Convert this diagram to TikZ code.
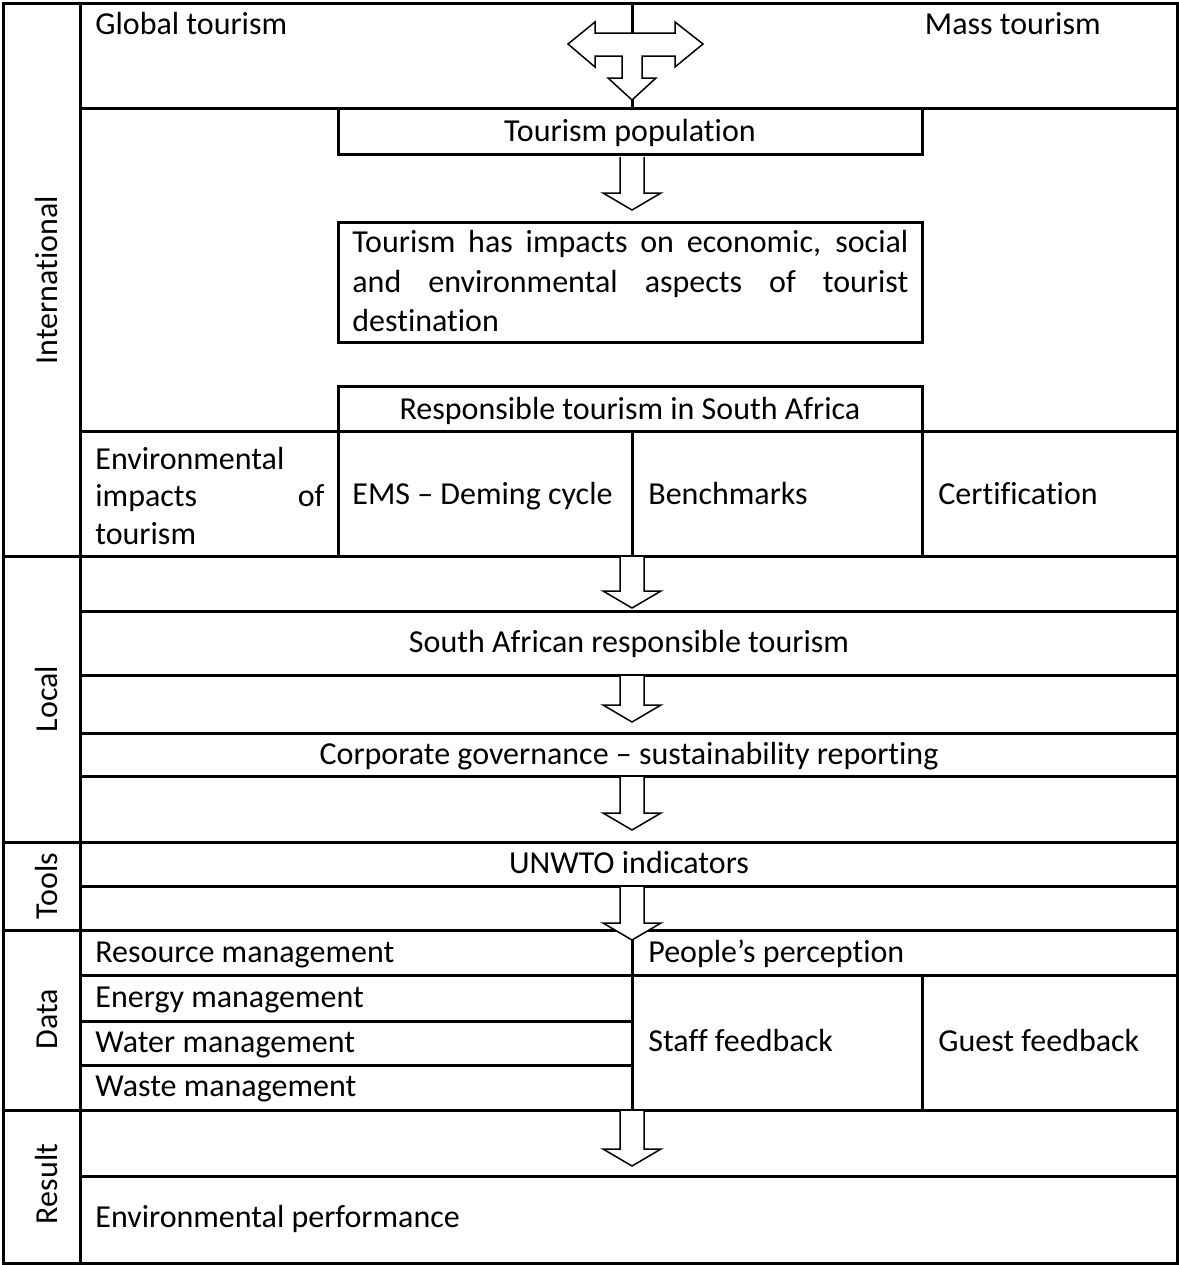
\documentclass[tikz,border=0pt]{standalone}
\usepackage{fontspec}
\setmainfont[Ligatures=NoCommon]{Carlito}
\begin{document}
\begin{tikzpicture}[x=0.5pt,y=-0.5pt,
  grid/.style={line width=1.5pt,line cap=rect},
  txt/.style={inner sep=0pt,anchor=base west,font=\fontsize{16pt}{20pt}\selectfont},
  ctxt/.style={inner sep=0pt,anchor=base,font=\fontsize{16pt}{20pt}\selectfont},
  side/.style={inner sep=0pt,rotate=90,font=\fontsize{16pt}{20pt}\selectfont},
  blockarrow/.style={line width=0.75pt,fill=white,line join=miter}]
\useasboundingbox (0,0) rectangle (1179,1265);

% hollow down arrow: centre x, top y, bottom y
\newcommand\hollowdown[3]{%
  \draw[blockarrow] (#1-12,#2) -- (#1-12,#3-17) -- (#1-29,#3-17) -- (#1,#3)
    -- (#1+29,#3-17) -- (#1+12,#3-17) -- (#1+12,#2);}

% outer frame and label column
\draw[grid] (3,3) rectangle (1177,1263);
\draw[grid] (80,3) -- (80,1263);
% section separators across the whole width
\foreach \y in {556,842,930,1110} \draw[grid] (3,\y) -- (1177,\y);
% row lines inside the content column
\foreach \y in {108,431,611,675,733,776,886,975,1176} \draw[grid] (80,\y) -- (1177,\y);
\foreach \y in {1021,1065} \draw[grid] (80,\y) -- (632,\y);

% international block
\draw[grid] (632,3) -- (632,33);
\draw[grid] (632,100) -- (632,108);
\draw[grid] (338,108) rectangle (922,154);
\draw[grid] (338,222) rectangle (922,342);
\draw[grid] (338,386) rectangle (922,431);
\draw[grid] (338,431) -- (338,556);
\draw[grid] (632,431) -- (632,556);
\draw[grid] (922,431) -- (922,556);

% data block
\draw[grid] (632,930) -- (632,1110);
\draw[grid] (922,975) -- (922,1110);

% three-way arrow at the top
\draw[blockarrow] (595,33) -- (595,22) -- (568,44) -- (595,67) -- (595,56)
  -- (622,56) -- (622,78) -- (608,78) -- (632,100) -- (656,78) -- (642,78)
  -- (642,56) -- (675,56) -- (675,67) -- (703,44) -- (675,22) -- (675,33) -- cycle;

% down arrows
\hollowdown{632}{157}{210}
\hollowdown{632}{557}{608}
\hollowdown{632}{676}{722}
\hollowdown{632}{777}{830}
\hollowdown{632}{887}{940}
\hollowdown{632}{1111}{1166}

% side labels
\node[side] (lInt) at (47,280) {International};
\node[side] (lLoc) at (47,699) {Local};
\node[side] (lTool) at (47,886) {Tools};
\node[side] (lData) at (47,1019) {Data};
\node[side] (lRes) at (47,1184) {Result};

% texts
\node[txt] (global) at (95,34) {Global tourism};
\node[txt,anchor=base east] (mass) at (1101,34) {Mass tourism};
\node[ctxt] (pop) at (630,141) {Tourism population};
\node[txt] (imp1) at (352,252) {\hbox to 278pt{Tourism has impacts on economic, social}};
\node[txt] (imp2) at (352,292) {\hbox to 278pt{and environmental aspects of tourist}};
\node[txt] (imp3) at (352,331) {destination};
\node[ctxt] (resp) at (630,419) {Responsible tourism in South Africa};
\node[txt] (env1) at (95,469) {Environmental};
\node[txt] (env2) at (95,506) {\hbox to 114.5pt{impacts of}};
\node[txt] (env3) at (95,544) {tourism};
\node[txt] (ems) at (352,504) {EMS – Deming cycle};
\node[txt] (bench) at (648,504) {Benchmarks};
\node[txt] (cert) at (938,504) {Certification};
\node[ctxt] (sart) at (629,652) {South African responsible tourism};
\node[ctxt] (corp) at (629,764) {Corporate governance – sustainability reporting};
\node[ctxt] (unwto) at (629,873) {UNWTO indicators};
\node[txt] (resm) at (95,962) {Resource management};
\node[txt] (perc) at (648,962) {People’s perception};
\node[txt] (energy) at (95,1007) {Energy management};
\node[txt] (water) at (95,1052) {Water management};
\node[txt] (waste) at (95,1096) {Waste management};
\node[txt] (staff) at (648,1051) {Staff feedback};
\node[txt] (guest) at (938,1051) {Guest feedback};
\node[txt] (envp) at (95,1227) {Environmental performance};
\end{tikzpicture}
\end{document}
